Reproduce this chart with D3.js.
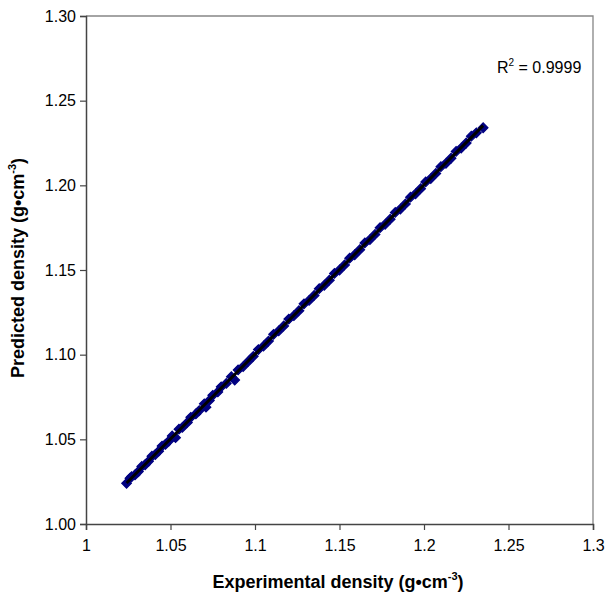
<!DOCTYPE html>
<html>
<head>
<meta charset="utf-8">
<script src="https://cdn.jsdelivr.net/npm/d3@7"></script>
<style>
  body { margin: 0; background: #fff; }
  svg { display: block; font-family: Arial, "Liberation Sans", sans-serif; }
</style>
</head>
<body>
<div id="chart"></div>
<script>
// experimental vs predicted density (g/cm3)
const experimental = [1.024, 1.026, 1.027, 1.029, 1.031, 1.033, 1.035, 1.037, 1.039, 1.041, 1.043,
  1.045, 1.047, 1.049, 1.051, 1.053, 1.055, 1.057, 1.060, 1.062, 1.065,
  1.067, 1.070, 1.071, 1.073, 1.075, 1.078, 1.080, 1.083, 1.086, 1.088,
  1.090, 1.093, 1.096, 1.099, 1.102, 1.105, 1.108, 1.111, 1.114, 1.117,
  1.120, 1.123, 1.126, 1.129, 1.132, 1.135, 1.138, 1.141, 1.144, 1.147,
  1.150, 1.153, 1.156, 1.159, 1.162, 1.165, 1.168, 1.171, 1.174, 1.177,
  1.180, 1.183, 1.186, 1.189, 1.192, 1.195, 1.198, 1.201, 1.204, 1.207,
  1.210, 1.213, 1.216, 1.219, 1.222, 1.225, 1.228, 1.231, 1.235];
const predicted = [1.024, 1.027, 1.028, 1.029, 1.031, 1.034, 1.035, 1.037, 1.040, 1.041, 1.043,
  1.046, 1.047, 1.049, 1.052, 1.051, 1.056, 1.057, 1.060, 1.063, 1.065,
  1.067, 1.071, 1.069, 1.073, 1.076, 1.078, 1.081, 1.083, 1.087, 1.085,
  1.091, 1.093, 1.096, 1.099, 1.103, 1.105, 1.108, 1.112, 1.114, 1.117,
  1.121, 1.123, 1.126, 1.130, 1.132, 1.135, 1.139, 1.141, 1.144, 1.148,
  1.150, 1.153, 1.157, 1.159, 1.162, 1.166, 1.168, 1.171, 1.175, 1.177,
  1.180, 1.184, 1.186, 1.189, 1.193, 1.195, 1.198, 1.202, 1.204, 1.207,
  1.211, 1.213, 1.216, 1.220, 1.222, 1.225, 1.229, 1.231, 1.234];

const xTicks = [1, 1.05, 1.1, 1.15, 1.2, 1.25, 1.3];
const yTicks = [1.00, 1.05, 1.10, 1.15, 1.20, 1.25, 1.30];
const r2Label = '0.9999';

const width = 610, height = 596;
const margin = {left: 86, top: 16, right: 17, bottom: 72};

const svg = d3.select('#chart').append('svg')
  .attr('width', width).attr('height', height);

const x = d3.scaleLinear().domain([1, 1.3]).range([margin.left, width - margin.right]);
const y = d3.scaleLinear().domain([1, 1.3]).range([height - margin.bottom, margin.top]);

// plot frame (top and right)
svg.append('path')
  .attr('d', `M${x(1)},${y(1.3)}H${x(1.3)}V${y(1)}`)
  .attr('fill', 'none').attr('stroke', '#868686').attr('stroke-width', 1.3);

// axes
const xAxis = svg.append('g')
  .attr('transform', `translate(0,${y(1)})`)
  .call(d3.axisBottom(x).tickValues(xTicks).tickSize(6).tickPadding(10)
    .tickFormat(d => String(+d.toFixed(2))));
const yAxis = svg.append('g')
  .attr('transform', `translate(${x(1)},0)`)
  .call(d3.axisLeft(y).tickValues(yTicks).tickSize(6).tickPadding(4)
    .tickFormat(d3.format('.2f')));
[xAxis, yAxis].forEach(g => {
  g.select('.domain').attr('stroke', '#444').attr('stroke-width', 1.5);
  g.selectAll('.tick line').attr('stroke', '#444').attr('stroke-width', 1.2);
  g.selectAll('.tick text').attr('font-size', 16).attr('fill', '#000')
    .attr('font-family', 'Arial, "Liberation Sans", sans-serif');
});

// points
const pts = experimental.map((e, i) => ({e: e, p: predicted[i]}));
const diamond = d3.symbol().type(d3.symbolSquare).size(46);
svg.append('g').selectAll('path').data(pts).enter().append('path')
  .attr('d', diamond)
  .attr('transform', d => `translate(${x(d.e)},${y(d.p)}) rotate(45)`)
  .attr('fill', '#000080')
  .attr('stroke', '#000080').attr('stroke-width', 1.2);

// linear trend line
const mx = d3.mean(pts, d => d.e), my = d3.mean(pts, d => d.p);
const slope = d3.sum(pts, d => (d.e - mx) * (d.p - my)) / d3.sum(pts, d => (d.e - mx) ** 2);
const icpt = my - slope * mx;
const x0 = d3.min(experimental), x1 = d3.max(experimental);
svg.append('line')
  .attr('x1', x(x0)).attr('y1', y(icpt + slope * x0))
  .attr('x2', x(x1)).attr('y2', y(icpt + slope * x1))
  .attr('stroke', '#000').attr('stroke-width', 3);

// R2 label
const r2 = svg.append('text').attr('x', 497).attr('y', 73)
  .attr('font-size', 16).attr('fill', '#000');
r2.append('tspan').text('R');
r2.append('tspan').attr('font-size', 10).attr('dy', -7).text('2');
r2.append('tspan').attr('dy', 7).text(' = ' + r2Label);

// axis titles
const xt = svg.append('text').attr('x', 338).attr('y', 588)
  .attr('text-anchor', 'middle').attr('font-size', 18).attr('font-weight', 'bold');
xt.append('tspan').text('Experimental density (g•cm');
xt.append('tspan').attr('font-size', 11).attr('dy', -8).text('-3');
xt.append('tspan').attr('dy', 8).text(')');

const yt = svg.append('text')
  .attr('transform', 'translate(24,268) rotate(-90)')
  .attr('text-anchor', 'middle').attr('font-size', 18).attr('font-weight', 'bold');
yt.append('tspan').text('Predicted density (g•cm');
yt.append('tspan').attr('font-size', 11).attr('dy', -8).text('-3');
yt.append('tspan').attr('dy', 8).text(')');
</script>
</body>
</html>
